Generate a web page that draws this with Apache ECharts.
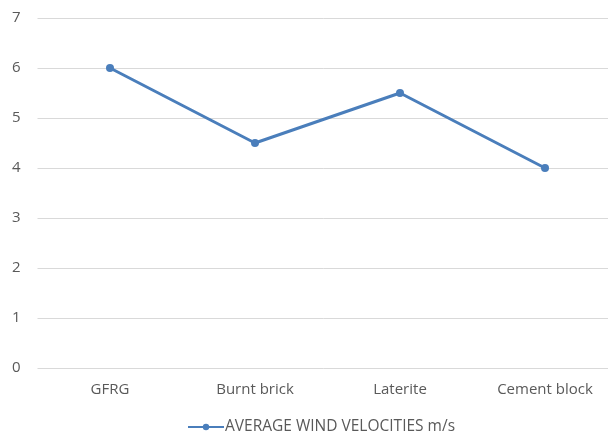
<!DOCTYPE html>
<html>
<head>
<meta charset="utf-8">
<script src="https://cdn.jsdelivr.net/npm/echarts@6/dist/echarts.min.js"></script>
<style>
  body { margin: 0; background: #fff; }
  #chart { width: 608px; height: 434px; }
</style>
</head>
<body>
<div id="chart"></div>
<script>
var categories = ['GFRG', 'Burnt brick', 'Laterite', 'Cement block'];
var velocities = [6, 4.5, 5.5, 4];
var seriesName = 'AVERAGE WIND VELOCITIES m/s';

var chart = echarts.init(document.getElementById('chart'));
chart.setOption({
  animation: false,
  grid: { left: 37.5, right: -9.5, top: 18, bottom: 66, outerBoundsMode: 'none' },
  legend: {
    top: 414,
    left: 182,
    itemWidth: 36,
    itemHeight: 8,
    itemGap: 2,
    textStyle: { color: '#595959', fontSize: 15.5, fontFamily: 'Open Sans', padding: [0, 0, 0, -4] }
  },
  xAxis: {
    type: 'category',
    data: categories,
    boundaryGap: true,
    axisLine: { show: false },
    axisTick: { show: false },
    axisLabel: { color: '#595959', fontSize: 15, fontFamily: 'Open Sans', margin: 14 }
  },
  yAxis: {
    type: 'value',
    min: 0, max: 7, interval: 1,
    axisLabel: { color: '#595959', fontSize: 15, fontFamily: 'Open Sans', margin: 17 },
    splitLine: { lineStyle: { color: '#d9d9d9', width: 1 } }
  },
  series: [{
    name: seriesName,
    type: 'line',
    data: velocities,
    symbol: 'circle',
    symbolSize: 8,
    lineStyle: { color: '#4a7ebb', width: 3 },
    itemStyle: { color: '#4a7ebb' }
  }]
});
</script>
</body>
</html>
